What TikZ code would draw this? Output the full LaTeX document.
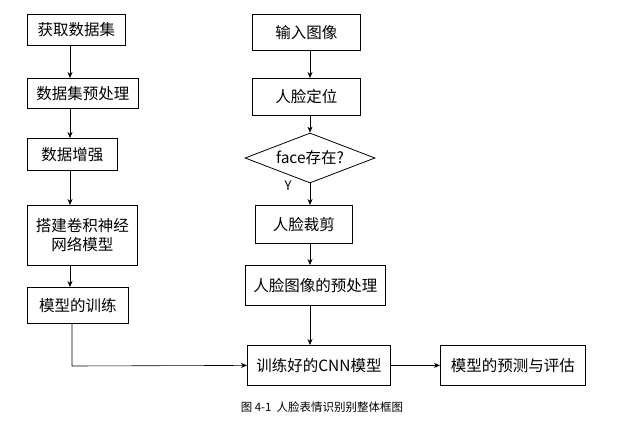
\documentclass[tikz,border=0pt]{standalone}
\usepackage{fontspec}
\setmainfont{Noto Sans CJK SC}
\usetikzlibrary{shapes.geometric,arrows.meta}
\begin{document}
\begin{tikzpicture}[x=1pt,y=-1pt,
  box/.style={draw,thick,fill=white,inner sep=0pt,font=\fontsize{15.5}{19}\selectfont},
  arr/.style={-{Stealth[length=6pt,width=5pt]},semithick}]
\useasboundingbox (0,0) rectangle (639,425);
\def\bx(#1)#2#3#4#5#6{\node[box,minimum width=#4-#2,minimum height=#5-#3,anchor=north west] (#1) at (#2,#3) {#6};}
\bx(a1){27}{14}{125}{45}{获取数据集}
\bx(a2){27}{78}{138}{108}{数据集预处理}
\bx(a3){27}{138}{117}{170}{数据增强}
\node[box,minimum width=110,minimum height=60,anchor=north west,align=left] (a4) at (27,205) {搭建卷积神经\\\hspace{1em}网络模型};
\bx(a5){27}{287}{128}{323}{模型的训练}
\bx(b1){252}{14}{360}{50}{输入图像}
\bx(b2){252}{78}{360}{115}{人脸定位}
\node[box,diamond,aspect=2.6,minimum width=130,minimum height=50,inner sep=0pt] (d) at (310,158) {face存在?};
\bx(b3){255}{205}{352}{243}{人脸裁剪}
\bx(b4){245}{265}{385}{305}{人脸图像的预处理}
\bx(c1){247}{345}{390}{385}{训练好的CNN模型}
\bx(c2){440}{345}{585}{385}{模型的预测与评估}
\coordinate (ax) at (70,0);
\foreach \u/\v in {a1/a2,a2/a3,a3/a4,a4/a5}
  \draw[arr] (\u.south -| ax) -- (\v.north -| ax);
\coordinate (bx) at (310,0);
\draw[arr] (b1.south -| bx) -- (b2.north -| bx);
\draw[arr] (b2.south -| bx) -- (d.north);
\draw[arr] (d.south) -- (b3.north -| bx);
\draw[arr] (b3.south -| bx) -- (b4.north -| bx);
\draw[arr] (b4.south -| bx) -- (c1.north -| bx);
\node[font=\fontsize{13}{15}\selectfont] (y) at (288,186) {Y};
\coordinate (k) at (72,366);
\draw[arr] (a5.south -| k) -- (k) -- (c1.west);
\draw[arr] (c1.east) -- (c2.west);
\node[font=\fontsize{11.5}{13}\selectfont] (cap) at (322,407) {图 4-1\ \ 人脸表情识别别整体框图};
\end{tikzpicture}
\end{document}
